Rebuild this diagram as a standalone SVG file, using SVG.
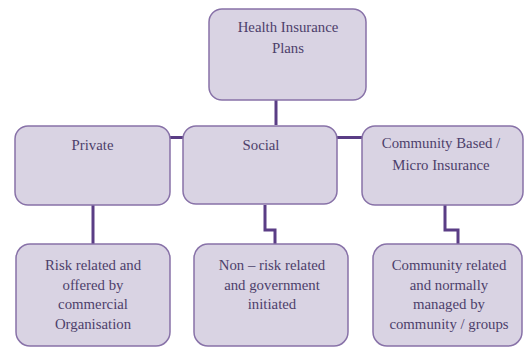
<svg xmlns="http://www.w3.org/2000/svg" width="531" height="347" viewBox="0 0 531 347">
<style>
.box{fill:#d9d3e3;stroke:#8872a8;stroke-width:1.5}
text{font-family:"Liberation Serif",Tinos,"Times New Roman",Times,"DejaVu Serif","Noto Serif",serif;font-size:14.8px;fill:#4d3f6b;text-anchor:middle}
.c{fill:none;stroke:#5a3d85;stroke-width:3}
</style>
<rect width="531" height="347" fill="#ffffff"/>
<g id="connectors">
<path class="c" d="M276 100V125"/>
<path class="c" d="M170 137.5H183"/>
<path class="c" d="M337 137.5H362"/>
<path class="c" d="M93 205V244"/>
<path class="c" d="M265 205V230H275V244"/>
<path class="c" d="M445 205V230H458V244"/>
</g>
<g id="n-root">
<rect class="box" x="209" y="9" width="157" height="91" rx="13"/>
<text x="288" y="32">Health Insurance</text>
<text x="288" y="53">Plans</text>
</g>
<g id="n-private">
<rect class="box" x="15" y="126" width="155" height="79" rx="13"/>
<text x="92.5" y="150">Private</text>
</g>
<g id="n-social">
<rect class="box" x="183" y="126" width="154" height="78" rx="13"/>
<text x="261" y="150">Social</text>
</g>
<g id="n-community">
<rect class="box" x="362" y="126" width="161" height="79" rx="13"/>
<text x="441" y="148">Community Based /</text>
<text x="441" y="170">Micro Insurance</text>
</g>
<g id="n-risk">
<rect class="box" x="16" y="244" width="154" height="102" rx="14"/>
<text x="93" y="270">Risk related and</text>
<text x="93" y="289.5">offered by</text>
<text x="93" y="309">commercial</text>
<text x="93" y="328.5">Organisation</text>
</g>
<g id="n-nonrisk">
<rect class="box" x="194" y="244" width="154" height="102" rx="14"/>
<text x="272" y="270">Non – risk related</text>
<text x="272" y="289.5">and government</text>
<text x="272" y="309">initiated</text>
</g>
<g id="n-commrel">
<rect class="box" x="373" y="244" width="149" height="102" rx="14"/>
<text x="449" y="270">Community related</text>
<text x="449" y="289.5">and normally</text>
<text x="449" y="309">managed by</text>
<text x="449" y="328.5">community / groups</text>
</g>
</svg>
